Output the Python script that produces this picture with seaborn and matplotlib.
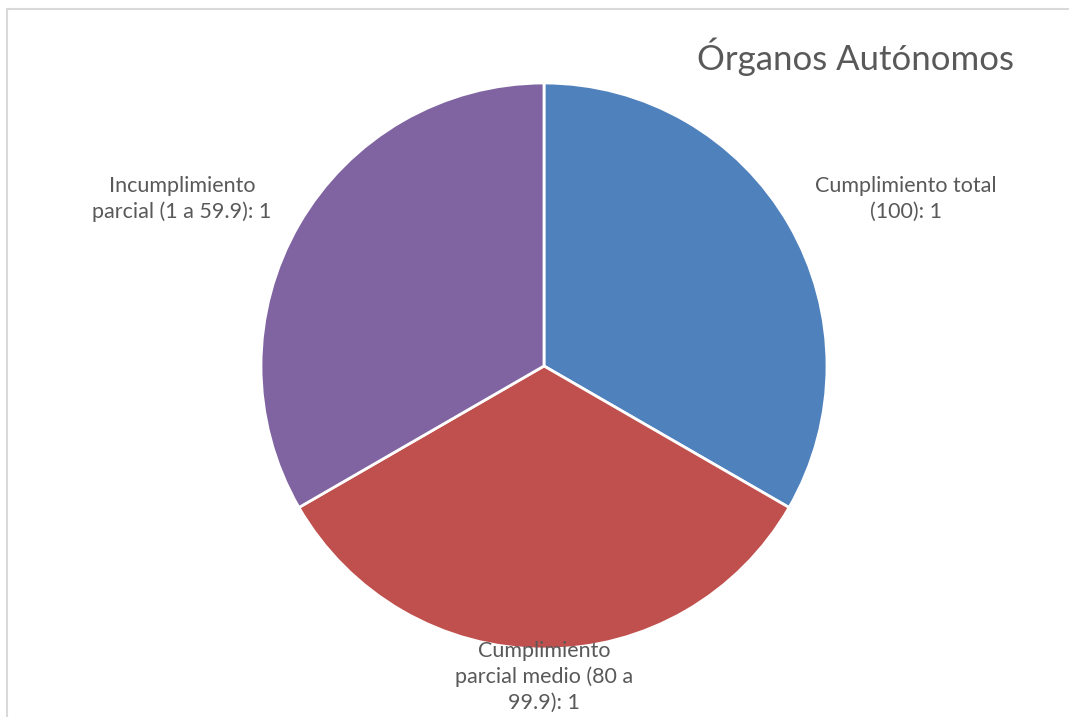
import matplotlib
matplotlib.use("Agg")
import matplotlib.pyplot as plt
from matplotlib.lines import Line2D
import seaborn as sns

# data
categories = ["Cumplimiento total (100)",
              "Cumplimiento parcial medio (80 a 99.9)",
              "Incumplimiento parcial (1 a 59.9)"]
values = [1, 1, 1]
# wrapped label text as in the chart
label_lines = [["Cumplimiento total", "(100): {}"],
               ["Cumplimiento", "parcial medio (80 a", "99.9): {}"],
               ["Incumplimiento", "parcial (1 a 59.9): {}"]]
title = "Órganos Autónomos"

sns.set_theme(style="white")
plt.rcParams['font.family'] = ['Lato', 'DejaVu Sans']

colors = ["#4F81BD", "#C0504D", "#8064A2"]
text_color = "#595959"

W, H = 1069, 717
fig = plt.figure(figsize=(W / 100, H / 100), dpi=100)

# pie centre and radius in pixels
cx, cy, r = 544, 366, 283
ax = fig.add_axes([(cx - r) / W, (H - cy - r) / H, 2 * r / W, 2 * r / H])

wedges, _ = ax.pie(values, colors=colors, startangle=90, counterclock=False,
                   radius=1, wedgeprops=dict(edgecolor="white", linewidth=2))
ax.set_xlim(-1, 1)
ax.set_ylim(-1, 1)
ax.axis("off")

# label positions (data units, like Excel's best fit)
label_pos = [(1.279, 0.59), (0.0, -1.099), (-1.279, 0.59)]
for lines, v, (x, y) in zip(label_lines, values, label_pos):
    txt = "\n".join(lines).format(v)
    ax.text(x, y, txt, ha="center", va="center", fontsize=15.5,
            color=text_color, linespacing=1.33, clip_on=False)

fig.text(1014 / W, 1 - 57 / H, title, ha="right", va="center",
         fontsize=25, color=text_color)

# chart area border (left and top edges visible)
bc = "#d9d9d9"
fig.add_artist(Line2D([7 / W, 7 / W], [0, 1 - 9 / H], transform=fig.transFigure,
                      color=bc, lw=1.5))
fig.add_artist(Line2D([7 / W, 1], [1 - 9 / H, 1 - 9 / H], transform=fig.transFigure,
                      color=bc, lw=1.5))

fig.savefig("out.png", dpi=100, facecolor="white")
